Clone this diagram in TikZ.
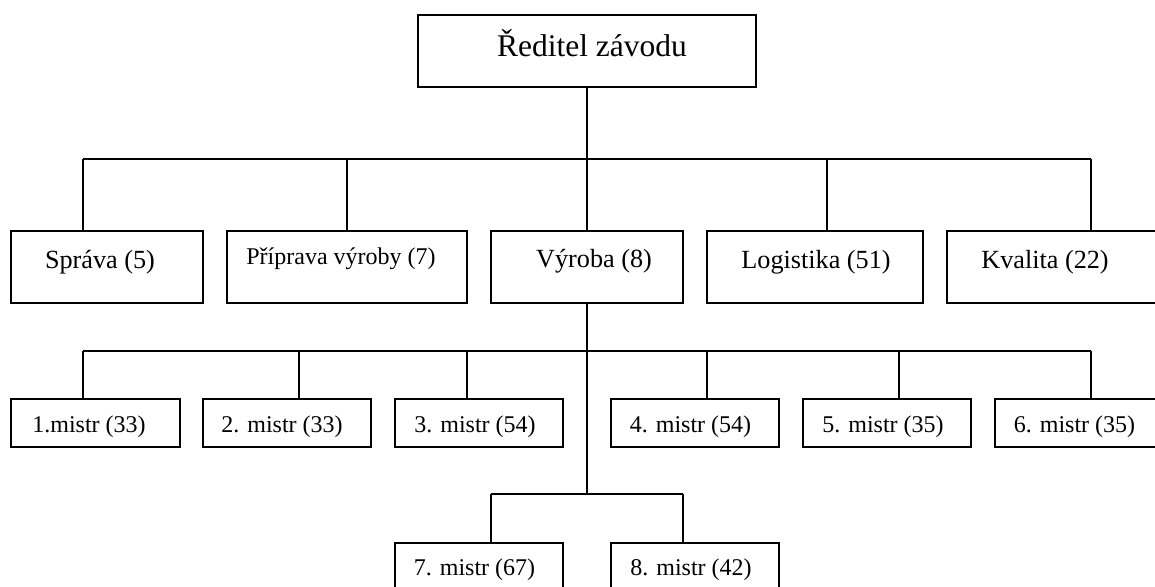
\documentclass[tikz,border=0pt]{standalone}
\usepackage{fontspec}
\setmainfont{Liberation Serif}
\usetikzlibrary{fit}
\tikzset{
  box/.style={draw, line width=0.9pt, inner sep=0pt, rectangle},
  conn/.style={draw, line width=0.9pt},
  ttl/.style={anchor=base, inner sep=0pt, font=\fontsize{15.75pt}{18pt}\selectfont},
  dept/.style={anchor=base, inner sep=0pt, font=\fontsize{13.1pt}{15pt}\selectfont},
  small/.style={anchor=base, inner sep=0pt, font=\fontsize{12pt}{14pt}\selectfont},
}
\begin{document}
\begin{tikzpicture}[x=0.5pt,y=-0.5pt]
\useasboundingbox (0,0) rectangle (1155,586);
% boxes
\node[box, fit={(418,15) (756,87)}] (top) {};
\node[box, fit={(11,231) (203,303)}] (sprava) {};
\node[box, fit={(227,231) (467,303)}] (priprava) {};
\node[box, fit={(491,231) (683,303)}] (vyroba) {};
\node[box, fit={(707,231) (923,303)}] (logistika) {};
\node[box, fit={(947,231) (1162,303)}] (kvalita) {};
\node[box, fit={(11,399) (180,447)}] (m1) {};
\node[box, fit={(203,399) (371,447)}] (m2) {};
\node[box, fit={(395,399) (563,447)}] (m3) {};
\node[box, fit={(611,399) (779,447)}] (m4) {};
\node[box, fit={(803,399) (971,447)}] (m5) {};
\node[box, fit={(995,399) (1164,447)}] (m6) {};
\node[box, fit={(395,543) (563,592)}] (m7) {};
\node[box, fit={(611,543) (779,592)}] (m8) {};
% texts
\node[ttl] (ttop) at (592,56) {Ředitel závodu};
\node[dept] (tsprava) at (100,268) {Správa (5)};
\node[small] (tpriprava) at (341,264) {Příprava výroby (7)};
\node[dept] (tvyroba) at (594,267) {Výroba (8)};
\node[dept] (tlogistika) at (816,268) {Logistika (51)};
\node[dept] (tkvalita) at (1045,268) {Kvalita (22)};
\node[small] (tm1) at (89,432) {1.mistr (33)};
\node[small] (tm2) at (282,432) {2. mistr (33)};
\node[small] (tm3) at (475,432) {3. mistr (54)};
\node[small] (tm4) at (690.5,432) {4. mistr (54)};
\node[small] (tm5) at (883,432) {5. mistr (35)};
\node[small] (tm6) at (1074.5,432) {6. mistr (35)};
\node[small] (tm7) at (474.5,575) {7. mistr (67)};
\node[small] (tm8) at (691,575) {8. mistr (42)};
% bar coordinates
\coordinate (a1) at (83,159);
\coordinate (a2) at (347,159);
\coordinate (a4) at (827,159);
\coordinate (a5) at (1091,159);
\coordinate (c1) at (83,351);
\coordinate (c2) at (299,351);
\coordinate (c3) at (467,351);
\coordinate (c4) at (707,351);
\coordinate (c5) at (899,351);
\coordinate (c6) at (1091,351);
\coordinate (d1) at (491,494);
\coordinate (d2) at (683,494);
\coordinate (dm) at (587,494);
% connectors
\draw[conn] (a1) -- (a5);
\draw[conn] (top.south) -- (vyroba.north);
\draw[conn] (a1) -- (a1 |- sprava.north);
\draw[conn] (a2) -- (a2 |- priprava.north);
\draw[conn] (a4) -- (a4 |- logistika.north);
\draw[conn] (a5) -- (a5 |- kvalita.north);
\draw[conn] (vyroba.south) -- (dm);
\draw[conn] (c1) -- (c6);
\draw[conn] (c1) -- (c1 |- m1.north);
\draw[conn] (c2) -- (c2 |- m2.north);
\draw[conn] (c3) -- (c3 |- m3.north);
\draw[conn] (c4) -- (c4 |- m4.north);
\draw[conn] (c5) -- (c5 |- m5.north);
\draw[conn] (c6) -- (c6 |- m6.north);
\draw[conn] (d1) -- (d2);
\draw[conn] (d1) -- (d1 |- m7.north);
\draw[conn] (d2) -- (d2 |- m8.north);
\end{tikzpicture}
\end{document}
